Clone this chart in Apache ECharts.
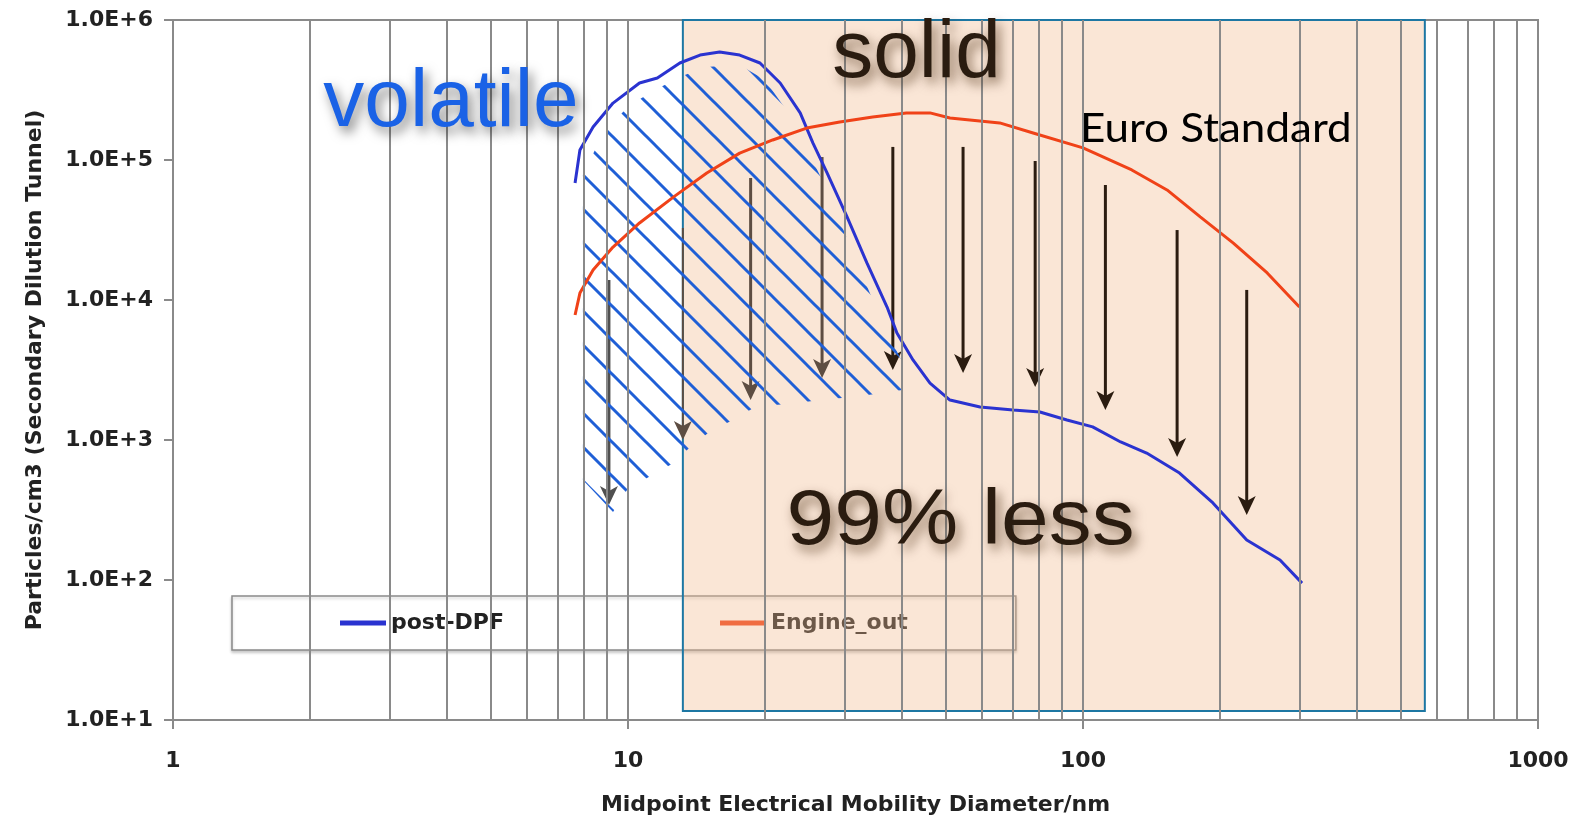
<!DOCTYPE html>
<html><head><meta charset="utf-8">
<script src="https://cdn.jsdelivr.net/npm/echarts/dist/echarts.min.js"></script>
<style>html,body{margin:0;padding:0;background:#fff}#c{width:1575px;height:824px}</style>
</head><body><div id="c"></div><script>
// ---------- data ----------
const postDpfX = [7.65, 7.84, 8.38, 9.27, 10.6, 11.6, 13.0, 14.4, 15.9, 17.6, 19.5, 21.6, 23.9, 25.5, 27.4, 30.3, 33.5, 37.1, 39.0, 42.3, 46.1, 51.0, 59.4, 70.2, 80.4, 92.2, 105, 121, 138, 163, 193, 229, 271, 303];
const postDpfY = [68500, 117800, 172000, 255000, 355000, 385000, 493000, 562000, 591000, 562000, 493000, 355000, 217000, 132000, 80700, 39200, 18400, 8910, 5810, 3730, 2550, 1930, 1720, 1640, 1585, 1390, 1240, 968, 807, 581, 355, 193, 139, 95];
const engineX = [7.65, 7.84, 8.38, 9.27, 10.6, 12.6, 14.9, 17.6, 20.8, 24.7, 29.2, 34.5, 40.9, 46.1, 51.0, 65.6, 77.7, 100, 128, 153, 181, 214, 254, 299];
const engineY = [7820, 11200, 16400, 23900, 35500, 54500, 80700, 112000, 139000, 169000, 187000, 203000, 217000, 217000, 199500, 184000, 156000, 122000, 84900, 61100, 39200, 25500, 15600, 8910];
const gridDiameters = [2,3,4,5,6,7,8,9,10,20,30,40,50,60,70,80,90,100,200,300,400,500,600,700,800,900];
const xTickLabels = ['1', '10', '100', '1000'];
const overlayX = [13.2, 564];
const overlayY = [11.6, 1.05e6];
const hatchX = [7.96, 8.46, 9.13, 10.1, 11.47, 13.0, 14.77, 17.6, 20.0, 22.7, 27.4, 31.2, 35.8, 42.7, 36.3, 31.2, 26.4, 22.7, 19.2, 17.0, 15.1, 13.7, 12.6, 11.2, 9.95, 9.27, 7.96];
const hatchY = [78100, 117900, 178000, 247000, 316000, 392000, 462000, 477000, 373000, 209000, 61100, 21700, 7560, 2350, 2170, 2030, 1930, 1810, 1750, 1390, 1140, 891, 685, 553, 440, 306, 518];
const arrowX = [9.08, 13.2, 18.6, 26.7, 38.2, 54.5, 78.5, 112, 161, 229];
const arrowTop = [13900, 32700, 74400, 105000, 124000, 124000, 98400, 66300, 31600, 11800];
const arrowBottom = [343, 1000, 1930, 2770, 3160, 3010, 2390, 1640, 757, 291];
const labelTexts = ['volatile', 'solid', '99% less', 'Euro Standard'];
const labelX = [2.14, 28.1, 22.3, 98.5];
const labelY = [255000, 571000, 259, 166000];

// ---------- helpers ----------
const zip = (a, b) => a.map((v, i) => [v, b[i]]);
function hatchPattern() {
  const w = 34, h = 34, c = document.createElement('canvas');
  c.width = w; c.height = h;
  const g = c.getContext('2d');
  g.strokeStyle = '#1f5fd6'; g.lineWidth = 3;
  for (let k = -2; k <= 2; k++) {
    g.beginPath(); g.moveTo(k * w - w, -h); g.lineTo(k * w + 2 * w, 2 * h); g.stroke();
  }
  return c;
}
const pattern = hatchPattern();
const labelStyles = [
  {font: '82px "Liberation Sans", Arial, sans-serif', fill: '#1a62e6', sx: 1, shadow: 'rgba(0,0,0,0.5)'},
  {font: '82px "Liberation Sans", Arial, sans-serif', fill: '#2a1c10', sx: 1, shadow: 'rgba(60,30,0,0.6)'},
  {font: '78px "Liberation Sans", Arial, sans-serif', fill: '#2a1c10', sx: 1.1, shadow: 'rgba(60,30,0,0.6)'},
  {font: '40px Lato, "Open Sans", sans-serif', fill: '#000', sx: 1.1, shadow: null}
];

const chart = echarts.init(document.getElementById('c'), null, {renderer: 'canvas'});
const axisFont = '"DejaVu Sans", sans-serif';
chart.setOption({
  animation: false,
  backgroundColor: '#fff',
  grid: {left: 173, right: 37, top: 20, bottom: 104, show: true, borderColor: '#8a8a8a', borderWidth: 2, backgroundColor: 'transparent', outerBoundsMode: 'none'},
  legend: {
    left: 232, top: 596, orient: 'horizontal', icon: 'rect', itemWidth: 46, itemHeight: 5,
    itemGap: 216, padding: [16, 108, 16, 108], backgroundColor: '#fff', borderColor: '#8a8a8a', borderWidth: 1.5,
    shadowBlur: 3, shadowColor: 'rgba(0,0,0,0.2)', shadowOffsetY: 2, z: 1,
    textStyle: {fontFamily: axisFont, fontWeight: 'bold', fontSize: 22, color: '#222'},
    data: ['post-DPF', 'Engine_out']
  },
  xAxis: {
    type: 'log', logBase: 10, min: 1, max: 1000,
    name: 'Midpoint Electrical Mobility Diameter/nm', nameLocation: 'middle', nameGap: 74,
    nameTextStyle: {fontFamily: axisFont, fontWeight: 'bold', fontSize: 22, color: '#222'},
    axisLine: {lineStyle: {color: '#8a8a8a', width: 2}},
    axisTick: {show: true, length: 9, lineStyle: {color: '#8a8a8a', width: 2}},
    axisLabel: {margin: 30, fontFamily: axisFont, fontWeight: 'bold', fontSize: 22, color: '#222',
      formatter: v => xTickLabels[Math.round(Math.log10(v))]},
    splitLine: {show: false}
  },
  yAxis: {
    type: 'log', logBase: 10, min: 10, max: 1e6,
    name: 'Particles/cm3 (Secondary Dilution Tunnel)', nameLocation: 'middle', nameGap: 127,
    nameTextStyle: {fontFamily: axisFont, fontWeight: 'bold', fontSize: 22, color: '#222'},
    axisLine: {lineStyle: {color: '#8a8a8a', width: 2}},
    axisTick: {show: true, length: 9, lineStyle: {color: '#8a8a8a', width: 2}},
    axisLabel: {margin: 20, fontFamily: axisFont, fontWeight: 'bold', fontSize: 22, color: '#222',
      formatter: v => '1.0E+' + Math.round(Math.log10(v))},
    splitLine: {show: false}
  },
  series: [
    { // vertical grid lines
      type: 'line', name: 'grid', data: [], z: 0.5, silent: true, clip: false,
      markLine: {silent: true, symbol: ['none', 'none'], label: {show: false}, animation: false,
        lineStyle: {color: '#8a8a8a', width: 2, type: 'solid'},
        data: gridDiameters.map(v => ({xAxis: v}))}
    },
    { // shaded solid region
      type: 'line', name: 'overlay', data: [], z: 2, silent: true, clip: false,
      markArea: {silent: true, itemStyle: {color: 'rgba(240,186,142,0.36)'},
        data: [[{xAxis: overlayX[0], yAxis: overlayY[1]}, {xAxis: overlayX[1], yAxis: overlayY[0]}]]}
    },
    { // arrows
      type: 'custom', name: 'arrows', z: 2.5, silent: true,
      data: arrowX.map((x, i) => [x, arrowBottom[i]]),
      renderItem: (params, api) => {
        const i = params.dataIndex;
        const t = api.coord([arrowX[i], arrowTop[i]]);
        const b = api.coord([arrowX[i], arrowBottom[i]]);
        const col = i === 0 ? '#505050' : (i < 4 ? '#5d4d42' : '#2b1c10');
        return {type: 'group', children: [
          {type: 'line', shape: {x1: t[0], y1: t[1], x2: b[0], y2: b[1] - 12}, style: {stroke: col, lineWidth: i === 1 ? 2 : 3}},
          {type: 'polygon', shape: {points: [[b[0], b[1]], [b[0] - 9, b[1] - 19], [b[0], b[1] - 14], [b[0] + 9, b[1] - 19]]}, style: {fill: col}}
        ]};
      }
    },
    { // volatile hatching
      type: 'custom', name: 'hatch', z: 3, silent: true,
      data: [[hatchX[0], hatchY[0]]],
      renderItem: (params, api) => ({
        type: 'polygon',
        shape: {points: hatchX.map((x, i) => api.coord([x, hatchY[i]]))},
        style: {fill: {image: pattern, repeat: 'repeat'}}
      })
    },
    {
      type: 'line', name: 'post-DPF', data: zip(postDpfX, postDpfY), z: 4,
      showSymbol: false, symbol: 'none', lineStyle: {color: '#2a33d0', width: 3}, itemStyle: {color: '#2a33d0'}
    },
    {
      type: 'line', name: 'Engine_out', data: zip(engineX, engineY), z: 4,
      showSymbol: false, symbol: 'none', lineStyle: {color: '#f04218', width: 3}, itemStyle: {color: '#f04218'}
    },
    { // overlay frame
      type: 'line', name: 'frame', data: [], z: 8, silent: true, clip: false,
      markArea: {silent: true, itemStyle: {color: 'rgba(0,0,0,0)', borderColor: '#1d77a3', borderWidth: 2},
        data: [[{xAxis: overlayX[0], yAxis: overlayY[1]}, {xAxis: overlayX[1], yAxis: overlayY[0]}]]}
    },
    { // annotations
      type: 'custom', name: 'labels', z: 9, silent: true,
      data: labelX.map((x, i) => [x, labelY[i]]),
      renderItem: (params, api) => {
        const i = params.dataIndex, s = labelStyles[i];
        const p = api.coord([labelX[i], labelY[i]]);
        const style = {text: labelTexts[i], x: 0, y: 0, font: s.font, fill: s.fill, align: 'left', verticalAlign: 'middle'};
        if (s.shadow) {
          style.textShadowColor = s.shadow; style.textShadowBlur = 12;
          style.textShadowOffsetX = 4; style.textShadowOffsetY = 6;
        }
        return {type: 'text', x: p[0], y: p[1], scaleX: s.sx, style};
      }
    }
  ]
});
</script></body></html>
